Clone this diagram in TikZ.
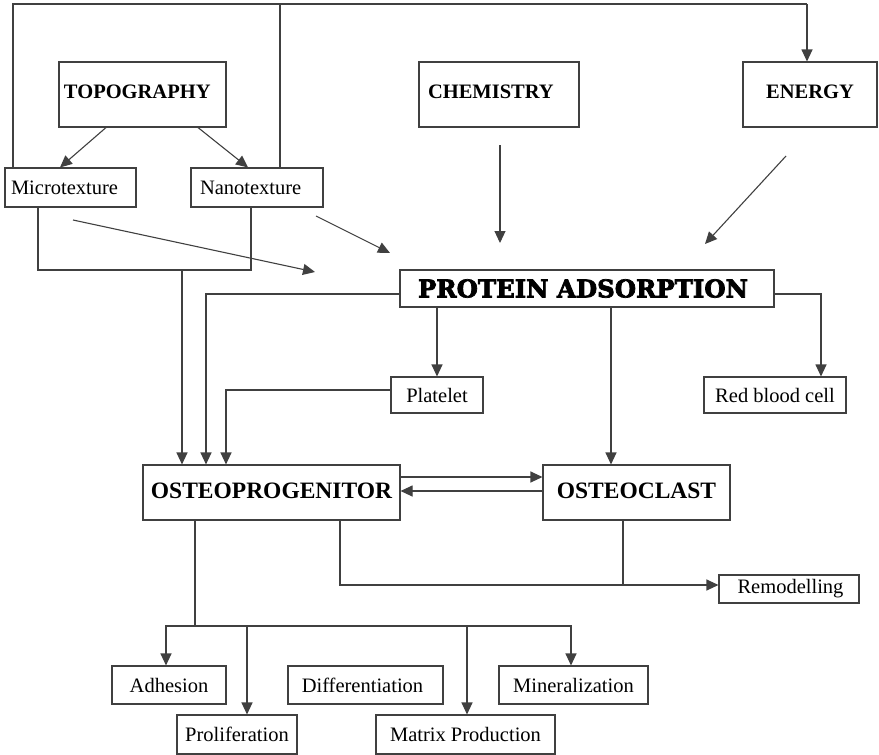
\documentclass[tikz,border=0pt]{standalone}
\usepackage{fontspec}
\setmainfont{Liberation Serif}
\newfontfamily\pafont{DejaVu Serif}[BoldFont={DejaVu Serif Bold},BoldFeatures={FakeBold=3}]
\usetikzlibrary{arrows.meta}
\definecolor{lc}{gray}{0.25}
\begin{document}
\begin{tikzpicture}[x=1pt,y=-1pt,
  box/.style={draw=lc, line width=1.1pt, inner sep=0pt, rectangle},
  nfont/.style={font=\fontsize{20.5}{24}\selectfont},
  hfont/.style={font=\fontsize{20.5}{24}\selectfont\bfseries},
  ofont/.style={font=\fontsize{23.5}{28}\selectfont\bfseries},
  ln/.style={draw=lc, line width=1.1pt},
  arr/.style={ln, -{Triangle[length=12pt,width=11pt]}}]
\useasboundingbox (0,0) rectangle (879,755);
% nodes
\node[box,hfont,minimum width=167,minimum height=65] (topo) at (142.5,94.5)
  {\makebox[167pt][l]{\hspace{5pt}\raisebox{5pt}{TOPOGRAPHY}}};
\node[box,hfont,minimum width=160,minimum height=65] (chem) at (499,94.5)
  {\makebox[160pt][l]{\hspace{9pt}\raisebox{5pt}{CHEMISTRY}}};
\node[box,hfont,minimum width=134,minimum height=65] (energy) at (810,94.5)
  {\raisebox{5pt}{ENERGY}};
\node[box,nfont,minimum width=131,minimum height=39] (micro) at (70.5,187.5)
  {\makebox[131pt][l]{\hspace{6pt}Microtexture}};
\node[box,nfont,minimum width=132,minimum height=39] (nano) at (257,187.5)
  {\makebox[132pt][l]{\hspace{9pt}Nanotexture}};
\node[box,minimum width=374,minimum height=37] (pa) at (587,288.5)
  {\hspace{-8pt}\resizebox{330pt}{!}{\pafont\bfseries PROTEIN ADSORPTION}};
\node[box,nfont,minimum width=92,minimum height=36] (plat) at (437,395) {Platelet};
\node[box,nfont,minimum width=142,minimum height=36] (rbc) at (775,395) {Red blood cell};
\node[box,ofont,minimum width=257,minimum height=55] (op) at (271.5,492.5)
  {\raisebox{4pt}{OSTEOPROGENITOR}};
\node[box,ofont,minimum width=187,minimum height=55] (oc) at (636.5,492.5)
  {\raisebox{4pt}{OSTEOCLAST}};
\node[box,nfont,minimum width=140,minimum height=28] (remod) at (789,589) {\hspace{3pt}Remodelling};
\node[box,nfont,minimum width=114,minimum height=38] (adh) at (169,685) {Adhesion};
\node[box,nfont,minimum width=120,minimum height=39] (prolif) at (237,734.5) {Proliferation};
\node[box,nfont,minimum width=155,minimum height=38] (diff) at (365.5,685) {\hspace{-6pt}Differentiation};
\node[box,nfont,minimum width=179,minimum height=39] (matrix) at (465.5,734.5) {Matrix Production};
\node[box,nfont,minimum width=149,minimum height=38] (mineral) at (573.5,685) {Mineralization};
% coordinates
\coordinate (tl) at (13,4);
\coordinate (tr) at (807,4);
\coordinate (mnj) at (182,270);
\coordinate (ma1) at (73,220);
\coordinate (ma2) at (315,272);
\coordinate (na1) at (316,216);
\coordinate (na2) at (390,253);
\coordinate (ca1) at (500,145);
\coordinate (ca2) at (500,243);
\coordinate (ea1) at (786,156);
\coordinate (ea2) at (705,244);
\coordinate (bj) at (195,626);
\coordinate (rj) at (340,585);
% top frame
\draw[ln] ([xshift=-57.5]micro.north) |- (tr);
\draw[arr] (tr) -- ([xshift=-3]energy.north);
\draw[ln] ([xshift=23]nano.north) -- ([xshift=23]nano.north |- tl);
% topography arrows
\draw[arr] ([xshift=-36.5]topo.south) -- ([xshift=-10.5]micro.north);
\draw[arr] ([xshift=55.5]topo.south) -- ([xshift=-9]nano.north);
% micro/nano joint
\draw[ln] ([xshift=-32.5]micro.south) |- (mnj) -| ([xshift=-6]nano.south);
\draw[arr] (mnj) -- (mnj |- op.north);
% free arrows
\draw[arr] (ma1) -- (ma2);
\draw[arr] (na1) -- (na2);
\draw[arr] (ca1) -- (ca2);
\draw[arr] (ea1) -- (ea2);
% protein adsorption outputs
\draw[arr] ([yshift=-5.5]pa.west) -| ([xshift=-65.5]op.north);
\draw[arr] (plat.north |- pa.south) -- (plat.north);
\draw[arr] ([yshift=5]plat.west) -| ([xshift=-45.5]op.north);
\coordinate (ocin) at ([xshift=-25.5]oc.north);
\draw[arr] (ocin |- pa.south) -- (ocin);
\draw[arr] ([yshift=-5.5]pa.east) -| ([xshift=46]rbc.north);
% op <-> oc
\draw[arr] ([yshift=15.5]op.east) -- ([yshift=15.5]oc.west);
\draw[arr] ([yshift=1.5]oc.west) -- ([yshift=1.5]op.east);
% remodelling
\draw[arr] ([xshift=68.5]op.south) |- ([yshift=4]remod.west);
\coordinate (ocout) at ([xshift=-13.5]oc.south);
\draw[ln] (ocout) -- (ocout |- rj);
% outputs of osteoprogenitor
\draw[ln] ([xshift=-76.5]op.south) -- (bj);
\draw[arr] (bj) -| ([xshift=-3]adh.north);
\draw[arr] (bj) -| ([xshift=10]prolif.north);
\draw[arr] (bj) -| ([xshift=1.5]matrix.north);
\draw[arr] (bj) -| ([xshift=-2.5]mineral.north);
\end{tikzpicture}
\end{document}
